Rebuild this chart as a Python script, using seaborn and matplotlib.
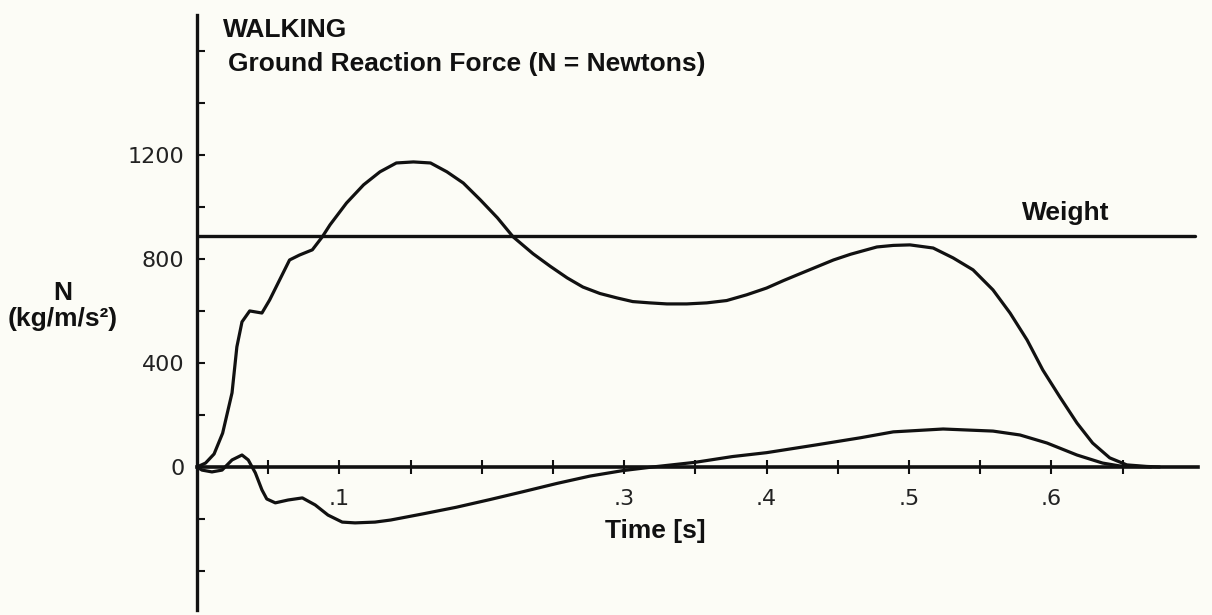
import numpy as np
import pandas as pd
import matplotlib
matplotlib.use("Agg")
import matplotlib.pyplot as plt
import seaborn as sns

# ---- data ----
t_vertical = [0, 0.006, 0.012, 0.018, 0.0246, 0.028, 0.0316, 0.037, 0.0456, 0.051, 0.058,
              0.065, 0.072, 0.081, 0.088, 0.0934, 0.105, 0.117, 0.1285, 0.140, 0.152,
              0.164, 0.1755, 0.187, 0.199, 0.211, 0.222, 0.236, 0.248, 0.26, 0.271,
              0.283, 0.295, 0.306, 0.318, 0.33, 0.344, 0.358, 0.372, 0.386, 0.400,
              0.412, 0.423, 0.435, 0.447, 0.459, 0.4656, 0.4775, 0.489, 0.5007, 0.517,
              0.531, 0.545, 0.559, 0.571, 0.583, 0.594, 0.606, 0.618, 0.629, 0.641,
              0.653, 0.667, 0.676]
f_vertical = [0, 15, 50, 130, 285, 462, 558, 600, 592, 642, 719,
              796, 815, 835, 885, 931, 1015, 1085, 1135, 1169, 1173,
              1169, 1135, 1092, 1027, 958, 885, 820, 772, 727, 692,
              667, 650, 636, 631, 627, 627, 631, 640, 662, 688,
              717, 742, 769, 796, 818, 828, 846, 852, 854, 842,
              804, 758, 681, 592, 488, 373, 269, 169, 92, 35,
              8, 2, 0]

t_shear = [0, 0.0035, 0.0105, 0.0176, 0.0246, 0.0316, 0.036, 0.041, 0.0456, 0.049, 0.055,
           0.064, 0.074, 0.083, 0.092, 0.102, 0.111, 0.125, 0.136, 0.159, 0.182,
           0.206, 0.229, 0.253, 0.276, 0.299, 0.320, 0.35, 0.376, 0.40, 0.435,
           0.4656, 0.489, 0.524, 0.559, 0.578, 0.597, 0.618, 0.636, 0.648, 0.67]
f_shear = [0, -12, -19, -12, 27, 46, 27, -23, -88, -123, -138,
           -127, -119, -146, -185, -212, -215, -212, -204, -180, -155,
           -125, -95, -63, -35, -14, 0, 18, 40, 55, 85,
           112, 135, 146, 138, 123, 92, 46, 15, 4, 0]

body_weight = 888

y_ticks = [-400, -200, 0, 200, 400, 600, 800, 1000, 1200, 1400, 1600]
y_labels = ["", "", "0", "", "400", "", "800", "", "1200", "", ""]
x_ticks = [0.05, 0.1, 0.15, 0.2, 0.25, 0.3, 0.35, 0.4, 0.45, 0.5, 0.55, 0.6, 0.65]
x_labels = ["", ".1", "", "", "", ".3", "", ".4", "", ".5", "", ".6", ""]

# ---- style ----
sns.set_style("white")
BG = "#fcfcf6"
INK = "#111111"
plt.rcParams["font.family"] = ["Liberation Sans", "DejaVu Sans"]

fig = plt.figure(figsize=(12.12, 6.15), dpi=100, facecolor=BG)
ax = fig.add_axes([197 / 1212, 5 / 615, (1198 - 197) / 1212, (610 - 15) / 615])
ax.set_facecolor(BG)

df_v = pd.DataFrame({"t": t_vertical, "F": f_vertical})
df_s = pd.DataFrame({"t": t_shear, "F": f_shear})
sns.lineplot(data=df_v, x="t", y="F", ax=ax, color=INK, lw=2.3, sort=False, estimator=None)
sns.lineplot(data=df_s, x="t", y="F", ax=ax, color=INK, lw=2.3, sort=False, estimator=None)
for line in ax.lines:
    line.set_solid_joinstyle("round")
    line.set_solid_capstyle("round")
ax.axhline(body_weight, xmin=0, xmax=0.997, color=INK, lw=2.4)

ax.set_xlim(0, 0.703)
ax.set_ylim(-550, 1738)

for s in ["top", "right"]:
    ax.spines[s].set_visible(False)
ax.spines["left"].set_linewidth(2.4)
ax.spines["left"].set_color(INK)
ax.spines["bottom"].set_position(("data", 0))
ax.spines["bottom"].set_linewidth(2.6)
ax.spines["bottom"].set_color(INK)

ax.set_yticks(y_ticks)
ax.set_yticklabels(y_labels, family="DejaVu Sans", fontsize=16, color="#222222")
ax.tick_params(axis="y", direction="in", length=6, width=1.5, color=INK, pad=9, left=True)
ax.set_xticks(x_ticks)
ax.set_xticklabels(x_labels, family="DejaVu Sans", fontsize=16, color="#222222")
ax.tick_params(axis="x", direction="inout", length=10, width=1.5, color=INK, pad=11, bottom=True)
ax.set_xlabel("")
ax.set_ylabel("")

fig.text(223 / 1212, 1 - 37 / 615, "WALKING", fontsize=19, fontweight="bold",
         color=INK, va="baseline", ha="left")
fig.text(228 / 1212, 1 - 71 / 615, "Ground Reaction Force (N = Newtons)", fontsize=19,
         fontweight="bold", color=INK, va="baseline", ha="left")
fig.text(1022 / 1212, 1 - 220 / 615, "Weight", fontsize=19, fontweight="bold",
         color=INK, va="baseline", ha="left")
fig.text(655 / 1212, 1 - 531 / 615, "Time [s]", fontsize=19, fontweight="bold",
         color=INK, va="center", ha="center")
fig.text(63 / 1212, 1 - 293 / 615, "N", fontsize=19, fontweight="bold",
         color=INK, va="center", ha="center")
fig.text(63 / 1212, 1 - 319 / 615, "(kg/m/s\u00b2)", fontsize=19, fontweight="bold",
         color=INK, va="center", ha="center")

fig.savefig("out.png", dpi=100, facecolor=BG)
